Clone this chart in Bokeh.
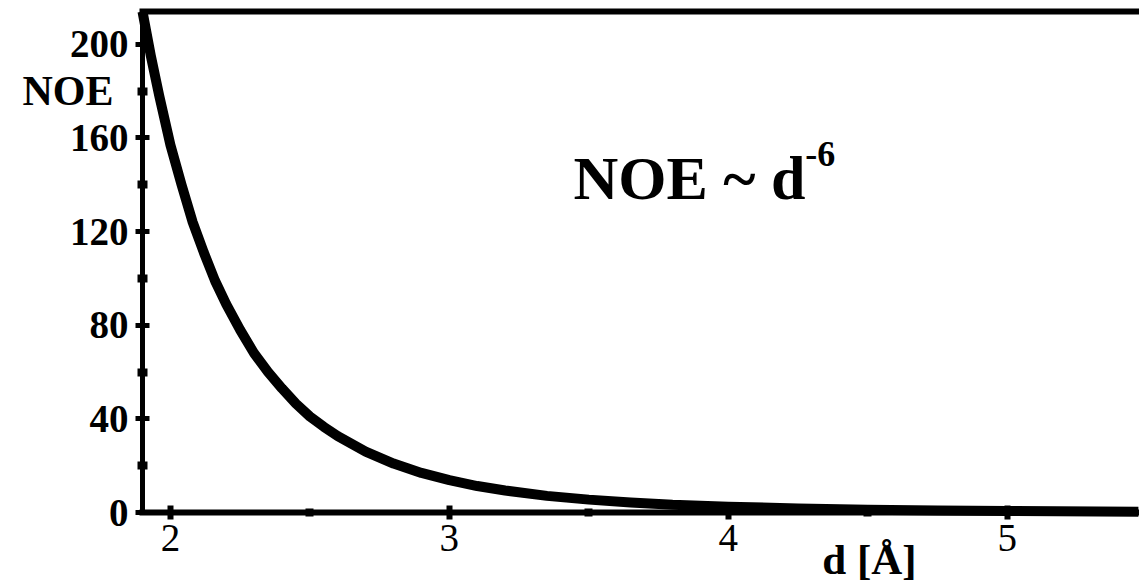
from bokeh.plotting import figure
from bokeh.models import FixedTicker, LinearAxis, Label, Range1d, ColumnDataSource
from bokeh.embed import file_html
from bokeh.resources import INLINE

# Distance d [Å] and NOE intensity
distance = [1.90, 1.93, 1.96, 2.00, 2.04, 2.08, 2.12, 2.16, 2.20, 2.25, 2.30,
            2.35, 2.40, 2.45, 2.50, 2.55, 2.60, 2.70, 2.80, 2.90, 3.00, 3.10,
            3.20, 3.35, 3.50, 3.65, 3.80, 4.00, 4.25, 4.50, 4.75, 5.00, 5.47]
noe = [214, 195, 178, 157, 140, 124, 111, 99, 89, 78, 68,
       60, 53, 46.5, 41, 36.6, 32.6, 26, 20.9, 16.9, 13.8, 11.3,
       9.4, 7.1, 5.5, 4.3, 3.3, 2.5, 1.7, 1.2, 0.88, 0.64, 0.37]

x_major = [2, 3, 4, 5]
x_minor = [2.5, 3.5, 4.5]
y_major = [0, 40, 80, 120, 160, 200]
y_minor = [20, 60, 100, 140, 180]

D_MIN, D_MAX = 1.9, 5.5      # extent of the d axis
NOE_MAX = 214                # top of the NOE axis

SERIF = "Liberation Serif"

# The frame spans the whole canvas; the axes sit at fixed data positions
# so that the axis titles can be placed freely around them.
p = figure(width=1139, height=582,
           x_range=Range1d(1.391, 5.474), y_range=Range1d(-29.9, 218.7),
           output_backend="svg", toolbar_location=None, min_border=0)
p.outline_line_color = None
p.xgrid.grid_line_color = None
p.ygrid.grid_line_color = None
p.background_fill_color = "white"
p.border_fill_color = "white"

src = ColumnDataSource(dict(d=distance, noe=noe))
p.line("d", "noe", source=src, line_width=10, line_color="black",
       line_cap="butt", line_join="round")

# x axis
xa = p.xaxis[0]
xa.fixed_location = 0
xa.bounds = (D_MIN, D_MAX)
xa.ticker = FixedTicker(ticks=x_major, minor_ticks=x_minor)
xa.axis_line_width = 6
xa.axis_line_color = "black"
xa.axis_line_cap = "square"
xa.major_tick_line_width = 6
xa.major_tick_in = 7
xa.major_tick_out = 7
xa.minor_tick_line_width = 8
xa.minor_tick_in = 4
xa.minor_tick_out = 4
xa.major_label_text_font = SERIF
xa.major_label_text_font_size = "39px"
xa.major_label_text_color = "black"
xa.major_label_standoff = 5

# y axis
ya = p.yaxis[0]
ya.fixed_location = D_MIN
ya.bounds = (0, NOE_MAX)
ya.ticker = FixedTicker(ticks=y_major, minor_ticks=y_minor)
ya.axis_line_width = 5
ya.axis_line_color = "black"
ya.axis_line_cap = "square"
ya.major_tick_line_width = 5
ya.major_tick_in = 7
ya.major_tick_out = 7
ya.minor_tick_line_width = 8
ya.minor_tick_in = 5
ya.minor_tick_out = 5
ya.major_label_text_font = SERIF
ya.major_label_text_font_style = "bold"
ya.major_label_text_font_size = "39px"
ya.major_label_text_color = "black"
ya.major_label_standoff = 7

# top frame line
top = LinearAxis(fixed_location=NOE_MAX, bounds=(D_MIN, D_MAX),
                 ticker=FixedTicker(ticks=[]), axis_line_width=6,
                 axis_line_color="black", axis_line_cap="square",
                 major_tick_line_color=None, minor_tick_line_color=None,
                 major_label_text_font_size="0px")
p.add_layout(top, "above")

# axis titles
p.add_layout(Label(x=1.796, y=180, text="NOE", text_font=SERIF,
                   text_font_style="bold", text_font_size="42px",
                   text_align="right", text_baseline="middle",
                   text_color="black"))
p.add_layout(Label(x=4.337, y=-20.1, text="d [Å]", text_font=SERIF,
                   text_font_style="bold", text_font_size="43px",
                   text_align="left", text_baseline="alphabetic",
                   text_color="black"))

# relation annotation
p.add_layout(Label(x=3.445, y=142.7, text="NOE ~ d", text_font=SERIF,
                   text_font_style="bold", text_font_size="62px",
                   text_align="left", text_baseline="alphabetic",
                   text_color="black"))
p.add_layout(Label(x=4.276, y=153.3, text="-6", text_font=SERIF,
                   text_font_style="bold", text_font_size="36px",
                   text_align="left", text_baseline="alphabetic",
                   text_color="black"))

open("out.html", "w").write(file_html(p, INLINE))
